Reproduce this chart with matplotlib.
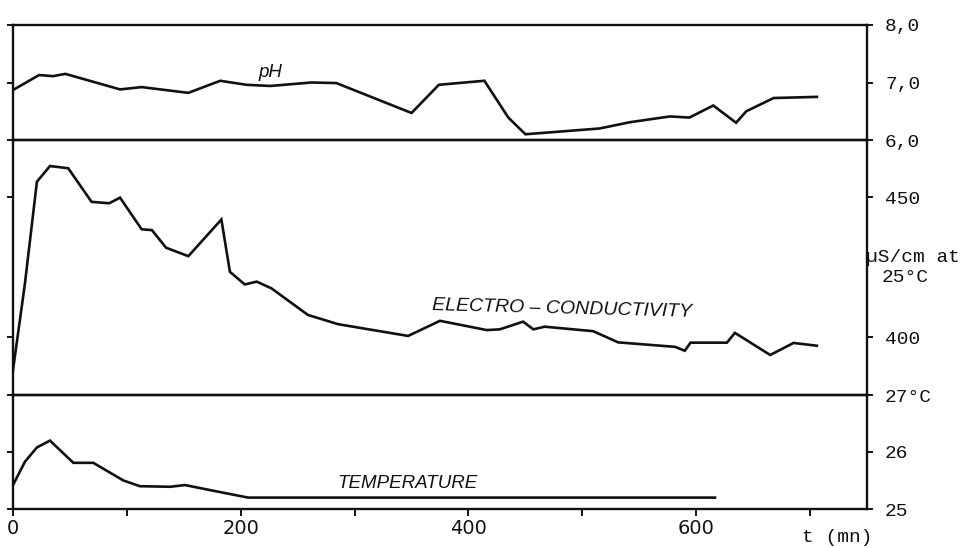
import matplotlib
matplotlib.use("Agg")
import matplotlib.pyplot as plt

# ---- data ----
ph_t = [0, 23, 35, 46, 94, 113, 154, 182, 205, 226, 262, 284, 350, 374, 414, 435,
        450, 515, 542, 577, 594, 615, 635, 644, 668, 706]
ph_v = [6.87, 7.13, 7.11, 7.15, 6.88, 6.92, 6.82, 7.03, 6.96, 6.94, 7.00, 6.99, 6.47,
        6.96, 7.03, 6.39, 6.10, 6.20, 6.31, 6.41, 6.39, 6.60, 6.30, 6.50, 6.73, 6.75]

ec_t = [0, 10.5, 21, 32.5, 48.5, 69, 84.5, 94, 113, 122, 134.5, 154, 183, 190.5,
        203.5, 214, 227, 259, 285.5, 347, 375, 416, 427.5, 448, 457, 467, 509.5,
        531.5, 581.5, 590, 595, 627, 634, 665, 685.5, 706]
ec_v = [388.2, 419.2, 455.5, 461.1, 460.3, 448.3, 447.8, 449.8, 438.5, 438.2, 431.9,
        428.9, 442.0, 423.3, 418.8, 419.8, 417.4, 407.9, 404.6, 400.4, 405.8, 402.5,
        402.75, 405.5, 402.75, 403.7, 402.1, 398.1, 396.5, 395.1, 398.0, 398.0, 401.5,
        393.6, 397.9, 396.9]

temp_t = [0, 10.5, 21, 32.5, 53, 70.5, 97, 111.5, 138, 151, 176, 206.5, 616.5]
temp_v = [25.42, 25.83, 26.08, 26.20, 25.81, 25.81, 25.50, 25.40, 25.39, 25.42,
          25.32, 25.20, 25.20]

ph_ticks = [6, 7, 8]
ph_ticklabels = ["6,0", "7,0", "8,0"]
ec_ticks = [400, 450]
ec_ticklabels = ["400", "450"]
temp_ticks = [25, 26, 27]
temp_ticklabels = ["25", "26", "27°C"]
x_minor = [100, 200, 300, 400, 500, 600, 700]
x_major = [0, 200, 400, 600]
x_major_labels = ["0", "200", "400", "600"]

INK = "#111111"
MONO = "Liberation Mono"
SANS = "Liberation Sans"

fig = plt.figure(figsize=(9.66, 5.48), dpi=100)
left, width = 13 / 966, (867 - 13) / 966
ax_ph = fig.add_axes([left, 1 - 140 / 548, width, 115 / 548])
ax_ec = fig.add_axes([left, 1 - 395 / 548, width, 255 / 548])
ax_t = fig.add_axes([left, 1 - 509 / 548, width, 114 / 548])

for ax in (ax_ph, ax_ec, ax_t):
    ax.set_xlim(0, 750)
    for s in ax.spines.values():
        s.set_linewidth(1.7)
        s.set_color(INK)
    ax.tick_params(axis="y", left=True, right=True, labelleft=False, labelright=True,
                   direction="out", length=4, width=1.4, color=INK, pad=9,
                   labelsize=14, labelcolor=INK)
    ax.set_facecolor("none")

ax_ph.plot(ph_t, ph_v, color=INK, lw=1.9, solid_joinstyle="miter")
ax_ph.set_ylim(6, 8)
ax_ph.set_yticks(ph_ticks)
ax_ph.set_yticklabels(ph_ticklabels, family=MONO)
ax_ph.set_xticks([])

ax_ec.plot(ec_t, ec_v, color=INK, lw=1.9, solid_joinstyle="miter")
ax_ec.set_ylim(379.3, 470.4)
ax_ec.set_yticks(ec_ticks)
ax_ec.set_yticklabels(ec_ticklabels, family=MONO)
ax_ec.set_xticks([])

ax_t.plot(temp_t, temp_v, color=INK, lw=1.9, solid_joinstyle="miter")
ax_t.set_ylim(25, 27)
ax_t.set_yticks(temp_ticks)
ax_t.set_yticklabels(temp_ticklabels, family=MONO)
ax_t.set_xticks(x_minor, minor=True)
ax_t.set_xticks(x_major)
ax_t.set_xticklabels(x_major_labels, family="DejaVu Sans")
ax_t.tick_params(axis="x", which="both", direction="out", length=5, width=1.4,
                 color=INK, pad=2, labelsize=14, labelcolor=INK)

# series labels
ax_ph.text(226, 7.17, "pH", style="italic", family=SANS, fontsize=13.5,
           ha="center", va="center", color=INK)
ax_ec.text(482.6, 410, "ELECTRO – CONDUCTIVITY", style="italic", family=SANS,
           fontsize=14, ha="center", va="center", color=INK, rotation=-1.5)
ax_t.text(346.5, 25.45, "TEMPERATURE", style="italic", family=SANS, fontsize=13.5,
          ha="center", va="center", color=INK)

# unit labels
fig.text(866 / 966, 1 - 257 / 548, "µS/cm at", family=MONO, fontsize=14,
         ha="left", va="center", color=INK)
fig.text(882 / 966, 1 - 278 / 548, "25°C", family=MONO, fontsize=14,
         ha="left", va="center", color=INK)
fig.text(837 / 966, 1 - 537 / 548, "t (mn)", family=MONO, fontsize=14,
         ha="center", va="center", color=INK)

fig.savefig("out.png", dpi=100, facecolor="white")
